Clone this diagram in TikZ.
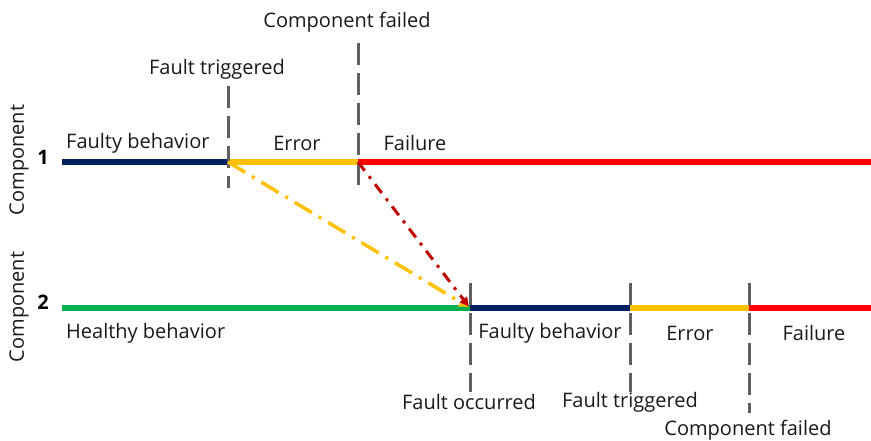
\documentclass[tikz,border=0pt]{standalone}
\usepackage{fontspec}
\setmainfont{Open Sans}
\usetikzlibrary{arrows.meta,positioning}
\definecolor{navy}{HTML}{002060}
\definecolor{amber}{HTML}{FFC000}
\definecolor{brightred}{HTML}{FF0000}
\definecolor{okgreen}{HTML}{00B050}
\definecolor{darkred}{HTML}{C00000}
\definecolor{markgray}{HTML}{5F5F5F}
\begin{document}
\begin{tikzpicture}[x=1pt,y=-1pt,
  phase/.style={line width=6.5pt},
  marker/.style={draw=markgray,line width=3pt,dash pattern=on 22pt off 8pt},
  lbl/.style={font=\fontsize{20}{24}\selectfont,inner sep=0pt,text=black!90},
  num/.style={font=\fontsize{20}{24}\selectfont\bfseries,inner sep=0pt},
  comp/.style={font=\fontsize{20}{24}\selectfont,inner sep=0pt,rotate=90,text=black!90},
  propag/.style={line width=3.5pt,-{Triangle[length=9pt,width=9pt]},shorten >=2pt}]
\useasboundingbox (0,0) rectangle (871,441);
% component 1 timeline
\coordinate (c1s) at (62,162);
\coordinate (c1ft) at (228,162);
\coordinate (c1cf) at (358,162);
\coordinate (c1e) at (871,162);
% component 2 timeline
\coordinate (c2s) at (62,308);
\coordinate (c2fo) at (470,308);
\coordinate (c2ft) at (630,308);
\coordinate (c2cf) at (749,308);
\coordinate (c2e) at (871,308);

\draw[phase,navy] (c1s) -- (c1ft);
\draw[phase,amber] (c1ft) -- (c1cf);
\draw[phase,brightred] (c1cf) -- (c1e);
\draw[phase,okgreen] (c2s) -- (c2fo);
\draw[phase,navy] (c2fo) -- (c2ft);
\draw[phase,amber] (c2ft) -- (c2cf);
\draw[phase,brightred] (c2cf) -- (c2e);

% event markers
\draw[marker] ([yshift=76pt]c1ft) -- ([yshift=-26pt]c1ft);
\draw[marker] ([yshift=119pt]c1cf) -- ([yshift=-26pt]c1cf);
\draw[marker] ([yshift=25pt]c2fo) -- ([yshift=-84pt]c2fo);
\draw[marker] ([yshift=25pt]c2ft) -- ([yshift=-84pt]c2ft);
\draw[marker] ([yshift=25pt]c2cf) -- ([yshift=-105pt]c2cf);

% propagation
\draw[propag,amber,dash pattern=on 20pt off 8pt on 3pt off 8pt] (c1ft) -- (c2fo);
\draw[propag,darkred,line width=3pt,dash pattern=on 11pt off 7pt on 3pt off 7pt] (c1cf) -- (c2fo);

% labels
\node[comp] (comp1) at (19,160) {Component};
\node[num] (n1) at (43,157) {1};
\node[comp] (comp2) at (19,307) {Component};
\node[num] (n2) at (43,302) {2};
\node[lbl] (ft1) at (217,69) {Fault triggered};
\node[lbl] (cf1) at (347,22) {Component failed};
\node[lbl,anchor=west] (fb1) at (66,143) {Faulty behavior};
\node[lbl] (er1) at (297,143) {Error};
\node[lbl] (fl1) at (415,143) {Failure};
\node[lbl,anchor=west] (hb2) at (66,333) {Healthy behavior};
\node[lbl] (fb2) at (550,333) {Faulty behavior};
\node[lbl] (er2) at (690,333) {Error};
\node[lbl] (fl2) at (814,333) {Failure};
\node[lbl] (fo2) at (469,402) {Fault occurred};
\node[lbl] (ft2) at (630,402) {Fault triggered};
\node[lbl] (cf2) at (748,430) {Component failed};
\end{tikzpicture}
\end{document}
